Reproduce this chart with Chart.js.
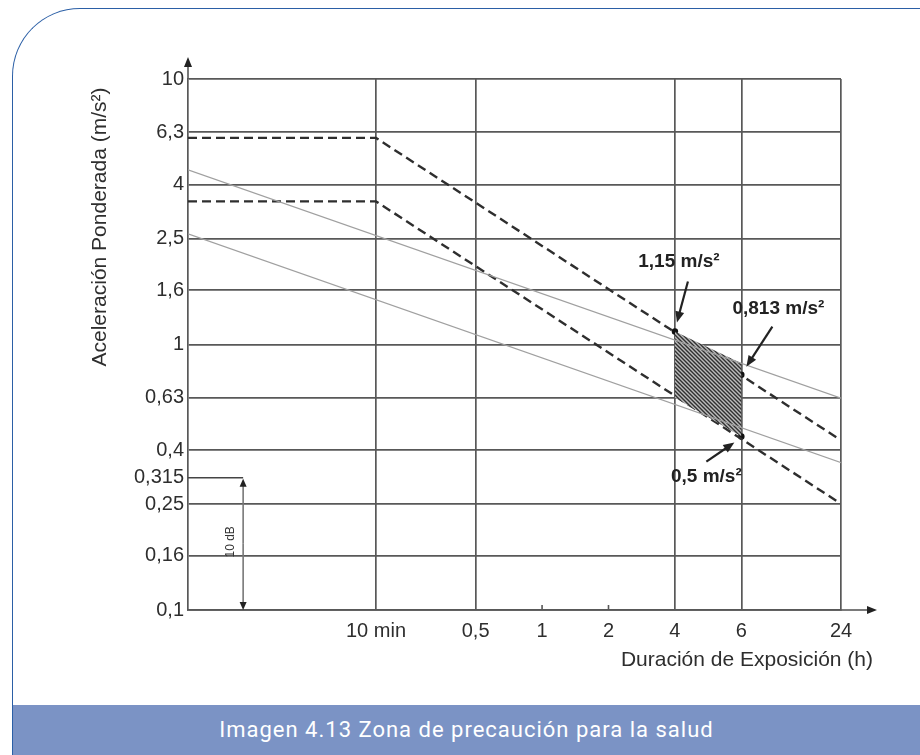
<!DOCTYPE html>
<html>
<head>
<meta charset="utf-8">
<script src="https://cdn.jsdelivr.net/npm/chart.js@4.4.0/dist/chart.umd.min.js"></script>
<style>
	html, body { margin: 0; padding: 0; background: #fff; }
	body { width: 920px; height: 755px; position: relative; overflow: hidden; }
	.frame {
		position: absolute; left: 12px; top: 8px; width: 960px; height: 800px;
		border-left: 1.5px solid #2b5fa6; border-top: 1.5px solid #2b5fa6;
		border-top-left-radius: 68px; box-sizing: border-box;
	}
	.caption {
		position: absolute; left: 13px; top: 705px; width: 907px; height: 50px;
		background: #7b93c5; color: #fff; text-align: center;
		font: 22px Roboto, sans-serif; line-height: 50px; letter-spacing: 1px;
	}
	#chart { position: absolute; left: 0; top: 0; }
</style>
</head>
<body>
<div class="frame"></div>
<canvas id="chart" width="920" height="705"></canvas>
<div class="caption">Imagen 4.13 Zona de precaución para la salud</div>
<script>
// Eje X esquemático: posición de cada marca (no proporcional al tiempo)
const xMin = -5.66;
const xMax = 14;
const xTickPos = [0, 3, 5, 7, 9, 11, 14];
const xTickLabels = ['10 min', '0,5', '1', '2', '4', '6', '24'];
const xShortTicks = [5, 7]; // 1 h y 2 h: solo marca corta, sin línea de rejilla

// Eje Y logarítmico
const yTicks = [0.1, 0.16, 0.25, 0.315, 0.4, 0.63, 1, 1.6, 2.5, 4, 6.3, 10];
const yTickLabels = ['0,1', '0,16', '0,25', '0,315', '0,4', '0,63', '1', '1,6', '2,5', '4', '6,3', '10'];
const yNoGrid = [0.315];

// Líneas límite
const dashedUpper = [{ x: -5.66, y: 6.0 }, { x: 0, y: 6.0 }, { x: 13.9, y: 0.444 }];
const dashedLower = [{ x: -5.66, y: 3.46 }, { x: 0, y: 3.46 }, { x: 13.9, y: 0.256 }];
const greyUpper = [{ x: -5.66, y: 4.55 }, { x: 14, y: 0.628 }];
const greyLower = [{ x: -5.66, y: 2.61 }, { x: 14.05, y: 0.357 }];

// Zona de precaución entre 4 h y 6 h
const zoneTop = [{ x: 9, y: 1.12 }, { x: 11, y: 0.85 }];
const zoneBottom = [{ x: 9, y: 0.63 }, { x: 11, y: 0.45 }];

// Puntos marcados y sus etiquetas
const markedPoints = [{ x: 9, y: 1.12 }, { x: 11, y: 0.77 }, { x: 11, y: 0.45 }];
const markedLabels = ['1,15 m/s²', '0,813 m/s²', '0,5 m/s²'];

// Marca de 10 dB
const dbMarkX = -4;
const dbRange = [0.1, 0.315];

// Desplazamientos (px) de texto y flecha respecto a cada punto marcado
const callouts = [
	{ text: [4, -70], from: [13, -50], to: [2, -9] },
	{ text: [37, -66], from: [31, -48], to: [5, -8] },
	{ text: [-35, 40], from: [-35, 25], to: [-7, 6] }
];

const GRID = '#585858';
const TEXT = '#2e2e2e';
const FONT = '"Liberation Sans", Arial, sans-serif';

// Patrón rayado para la zona
function hatchPattern() {
	const c = document.createElement('canvas');
	c.width = 4; c.height = 4;
	const g = c.getContext('2d');
	g.fillStyle = '#bcbcbc';
	g.fillRect(0, 0, 4, 4);
	g.strokeStyle = '#303030';
	g.lineWidth = 1.4;
	g.beginPath();
	g.moveTo(-1, -1); g.lineTo(5, 5);
	g.moveTo(-1, 3); g.lineTo(1, 5);
	g.moveTo(3, -1); g.lineTo(5, 1);
	g.stroke();
	return g.createPattern(c, 'repeat');
}

function arrow(ctx, x1, y1, x2, y2, len, half) {
	const a = Math.atan2(y2 - y1, x2 - x1);
	ctx.beginPath();
	ctx.moveTo(x1, y1);
	ctx.lineTo(x2 - Math.cos(a) * len * 0.6, y2 - Math.sin(a) * len * 0.6);
	ctx.stroke();
	ctx.beginPath();
	ctx.moveTo(x2, y2);
	ctx.lineTo(x2 - Math.cos(a) * len - Math.sin(a) * half, y2 - Math.sin(a) * len + Math.cos(a) * half);
	ctx.lineTo(x2 - Math.cos(a) * len + Math.sin(a) * half, y2 - Math.sin(a) * len - Math.cos(a) * half);
	ctx.closePath();
	ctx.fill();
}

const extras = {
	id: 'extras',
	afterDraw(chart) {
		const ctx = chart.ctx;
		const area = chart.chartArea;
		const xs = chart.scales.x;
		const ys = chart.scales.y;
		ctx.save();

		// prolongación de los ejes con flechas
		ctx.strokeStyle = GRID;
		ctx.fillStyle = '#222';
		ctx.lineWidth = 1.6;
		arrow(ctx, area.left, area.top, area.left, area.top - 22, 10, 4);
		arrow(ctx, area.right, area.bottom, area.right + 36, area.bottom, 10, 4);

		// marcas cortas en 1 h y 2 h
		ctx.beginPath();
		xShortTicks.forEach(v => {
			const px = xs.getPixelForValue(v);
			ctx.moveTo(px, area.bottom);
			ctx.lineTo(px, area.bottom - 5);
		});
		ctx.stroke();

		// marca de 10 dB
		const dx = xs.getPixelForValue(dbMarkX);
		const yTop = ys.getPixelForValue(dbRange[1]);
		const yBot = ys.getPixelForValue(dbRange[0]);
		ctx.strokeStyle = '#444';
		ctx.beginPath();
		ctx.moveTo(area.left, yTop);
		ctx.lineTo(dx, yTop);
		ctx.stroke();
		ctx.strokeStyle = '#777';
		arrow(ctx, dx, (yTop + yBot) / 2, dx, yTop + 1, 8, 3.5);
		arrow(ctx, dx, (yTop + yBot) / 2, dx, yBot, 8, 3.5);
		ctx.save();
		ctx.translate(dx - 12, (yTop + yBot) / 2 - 2);
		ctx.rotate(-Math.PI / 2);
		ctx.font = '12px ' + FONT;
		ctx.fillStyle = '#333';
		ctx.textAlign = 'center';
		ctx.textBaseline = 'middle';
		ctx.fillText('10 dB', 0, 0);
		ctx.restore();

		// etiquetas de los puntos con flechas
		ctx.strokeStyle = '#222';
		ctx.fillStyle = '#222';
		ctx.lineWidth = 2.2;
		ctx.font = 'bold 19px ' + FONT;
		ctx.textAlign = 'center';
		ctx.textBaseline = 'middle';
		markedPoints.forEach((p, i) => {
			const px = xs.getPixelForValue(p.x);
			const py = ys.getPixelForValue(p.y);
			const c = callouts[i];
			ctx.fillText(markedLabels[i], px + c.text[0], py + c.text[1]);
			arrow(ctx, px + c.from[0], py + c.from[1], px + c.to[0], py + c.to[1], 11, 4.5);
		});

		// títulos de los ejes
		ctx.fillStyle = TEXT;
		ctx.font = '21px ' + FONT;
		ctx.textAlign = 'right';
		ctx.fillText('Duración de Exposición (h)', area.right + 32, area.bottom + 50);
		ctx.save();
		ctx.translate(area.left - 88, area.top + 148);
		ctx.rotate(-Math.PI / 2);
		ctx.textAlign = 'center';
		ctx.fillText('Aceleración Ponderada (m/s²)', 0, 0);
		ctx.restore();

		ctx.restore();
	}
};

const lineStyle = { pointRadius: 0, fill: false, tension: 0 };

new Chart(document.getElementById('chart'), {
	type: 'line',
	data: {
		datasets: [
			{ ...lineStyle, data: greyUpper, borderColor: '#a0a0a0', borderWidth: 1.3 },
			{ ...lineStyle, data: greyLower, borderColor: '#a0a0a0', borderWidth: 1.3 },
			{ ...lineStyle, data: zoneTop, borderWidth: 0, borderColor: 'rgba(0,0,0,0)' },
			{ ...lineStyle, data: zoneBottom, borderWidth: 0, borderColor: 'rgba(0,0,0,0)', fill: '-1', backgroundColor: hatchPattern() },
			{ ...lineStyle, data: dashedUpper, borderColor: '#2e2e2e', borderWidth: 2.4, borderDash: [9, 5] },
			{ ...lineStyle, data: dashedLower, borderColor: '#2e2e2e', borderWidth: 2.4, borderDash: [9, 5] },
			{ type: 'scatter', data: markedPoints, pointRadius: 3.2, backgroundColor: '#111', borderWidth: 0 }
		]
	},
	options: {
		responsive: false,
		animation: false,
		devicePixelRatio: 1,
		layout: { padding: { top: 79, right: 79, left: 0, bottom: 0 } },
		plugins: { legend: { display: false }, tooltip: { enabled: false } },
		scales: {
			x: {
				type: 'linear',
				min: xMin,
				max: xMax,
				afterBuildTicks: s => { s.ticks = xTickPos.map(v => ({ value: v })); },
				afterFit: s => { s.height = 95; },
				grid: {
					color: c => (c.tick && xShortTicks.includes(c.tick.value)) ? 'rgba(0,0,0,0)' : GRID,
					lineWidth: 1.7,
					drawTicks: false
				},
				border: { color: GRID, width: 1.7 },
				ticks: {
					padding: 9,
					color: TEXT,
					maxRotation: 0,
					autoSkip: false,
					font: { family: FONT, size: 20 },
					callback: v => xTickLabels[xTickPos.indexOf(v)]
				}
			},
			y: {
				type: 'logarithmic',
				min: 0.1,
				max: 10,
				afterBuildTicks: s => { s.ticks = yTicks.map(v => ({ value: v })); },
				afterFit: s => { s.width = 188; },
				grid: {
					color: c => (c.tick && yNoGrid.includes(c.tick.value)) ? 'rgba(0,0,0,0)' : GRID,
					lineWidth: 1.7,
					drawTicks: false
				},
				border: { color: GRID, width: 1.7 },
				ticks: {
					padding: 4,
					color: TEXT,
					autoSkip: false,
					font: { family: FONT, size: 20 },
					callback: v => yTickLabels[yTicks.indexOf(v)]
				}
			}
		}
	},
	plugins: [extras]
});
</script>
</body>
</html>
